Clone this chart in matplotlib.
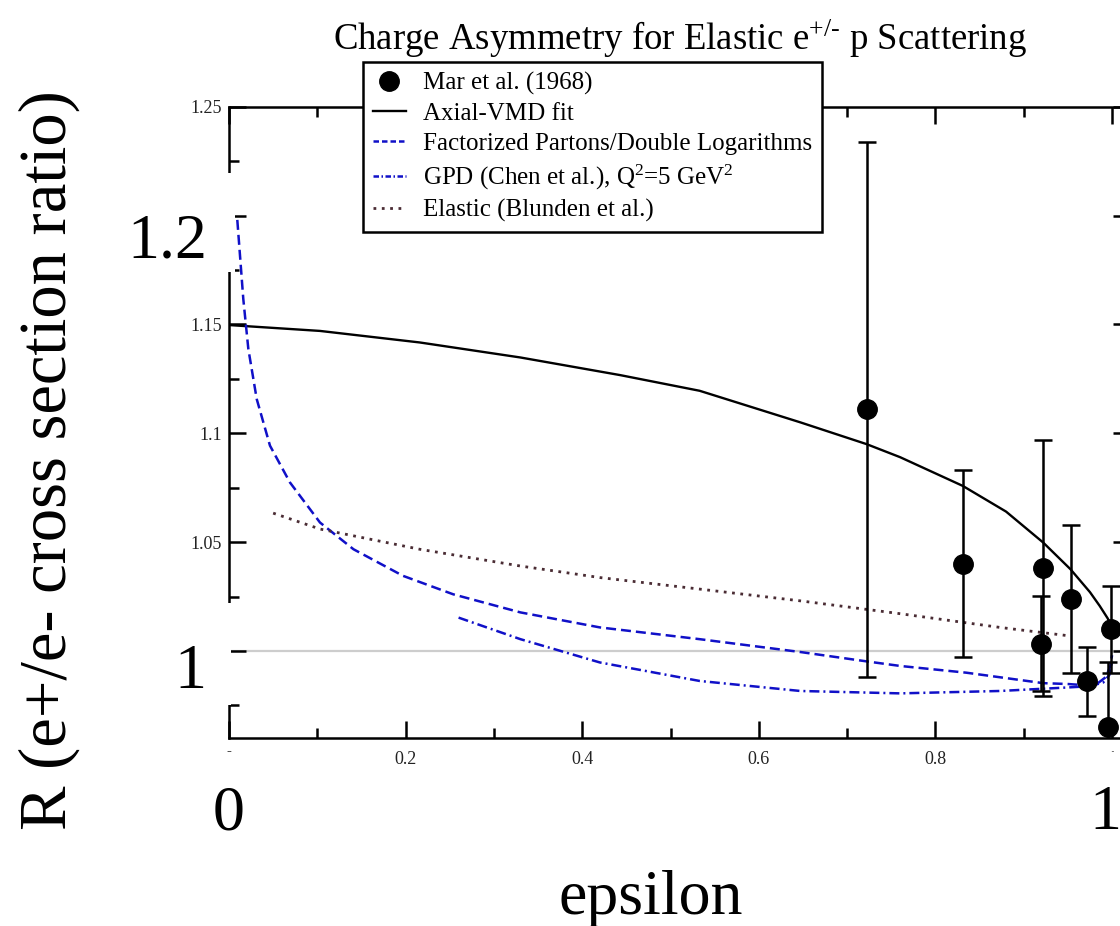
import numpy as np
import matplotlib
matplotlib.use('Agg')
import matplotlib.pyplot as plt
from matplotlib.patches import Rectangle
from matplotlib.lines import Line2D
from matplotlib.ticker import FixedLocator, FixedFormatter, MultipleLocator

plt.rcParams['font.family'] = ['Liberation Serif', 'DejaVu Serif']
plt.rcParams['mathtext.fontset'] = 'custom'
plt.rcParams['mathtext.rm'] = 'Liberation Serif'
plt.rcParams['mathtext.it'] = 'Liberation Serif:italic'
plt.rcParams['mathtext.bf'] = 'Liberation Serif:bold'

# ---------------- data ----------------
mar_eps = [0.722, 0.831, 0.922, 0.920, 0.953, 0.972, 0.9985, 0.9958]
mar_R   = [1.111, 1.040, 1.038, 1.0034, 1.024, 0.986, 1.010, 0.965]
mar_err = [0.123, 0.043, 0.0588, 0.0218, 0.034, 0.016, 0.020, 0.030]

vmd_eps = [0.0, 0.103, 0.216, 0.33, 0.443, 0.533, 0.647, 0.722, 0.76,
           0.831, 0.88, 0.922, 0.953, 0.975, 0.986, 0.995, 1.0]
vmd_R   = [1.1497, 1.147, 1.1417, 1.1348, 1.1267, 1.1195, 1.105, 1.095, 1.089,
           1.0758, 1.064, 1.0498, 1.0375, 1.027, 1.0207, 1.015, 1.011]

fp_eps = [0.0094, 0.0162, 0.0219, 0.0314, 0.0464, 0.069, 0.103, 0.141, 0.197, 0.254,
          0.33, 0.42, 0.533, 0.647, 0.722, 0.76, 0.835, 0.922, 0.95, 0.971, 0.985,
          0.993, 0.998, 1.0]
fp_R   = [1.198, 1.1616, 1.1387, 1.1157, 1.0943, 1.0774, 1.059, 1.0467, 1.0345, 1.026,
          1.0177, 1.0108, 1.0054, 0.9995, 0.9952, 0.9931, 0.990, 0.9852, 0.9848, 0.9842,
          0.9855, 0.988, 0.993, 0.998]

gpd_eps = [0.26, 0.33, 0.42, 0.533, 0.647, 0.76, 0.873, 0.949, 0.975, 0.99,
           0.997, 1.0]
gpd_R   = [1.0153, 1.0054, 0.9947, 0.9862, 0.9816, 0.9805, 0.9816, 0.9832,
           0.9838, 0.9855, 0.989, 0.995]

el_eps = [0.05, 0.103, 0.216, 0.33, 0.42, 0.533, 0.647, 0.76, 0.873, 0.952]
el_R   = [1.0633, 1.056, 1.0467, 1.039, 1.0337, 1.0284, 1.023, 1.0171, 1.0108, 1.0069]

x_major = [0.0, 0.2, 0.4, 0.6, 0.8, 1.0]
x_major_labels = ['0', '0.2', '0.4', '0.6', '0.8', '1']
y_major = [1.0, 1.05, 1.1, 1.15, 1.2, 1.25]
# the small "1" and "1.2" labels are hidden behind the large ones in the reference
y_major_labels = ['', '1.05', '1.1', '1.15', '', '1.25']

big_x_ticks = [0, 1]
big_x_labels = ['0', '1']
big_y_ticks = [1.0, 1.2]
big_y_labels = ['1', '1.2']

legend_labels = ['Mar et al. (1968)', 'Axial-VMD fit',
                 'Factorized Partons/Double Logarithms',
                 r'GPD (Chen et al.), Q$^2$=5 GeV$^2$',
                 'Elastic (Blunden et al.)']

title = 'Charge Asymmetry for Elastic e$^{+/\u2010}$ p Scattering'
xlabel = 'epsilon'
ylabel = 'R (e+/e- cross section ratio)'

# ---------------- layout helpers ----------------
W, H = 1120, 926
fig = plt.figure(figsize=(W / 100, H / 100), dpi=100)
fig.patch.set_facecolor('white')


def fx(px):
    return px / W


def fy(py):
    return 1 - py / H


L, R_, T, B = 229, 1129.7, 106.7, 738
rect = [fx(L), fy(B), (R_ - L) / W, (B - T) / H]

ax = fig.add_axes(rect, zorder=1)
ax.set_xlim(0, 1.02)
ax.set_ylim(0.96, 1.25)

blue = '#1010c8'
dotc = '#4a2c34'
ax.axhline(1.0, color='#cdcdcd', lw=1.6, zorder=1)

ax.plot(vmd_eps, vmd_R, color='black', lw=1.7, zorder=3)
ax.plot(fp_eps, fp_R, color=blue, lw=1.8, dashes=(4, 2), zorder=3)
ax.plot(gpd_eps, gpd_R, color=blue, lw=1.8, dashes=(4, 1.6, 0.8, 1.6), zorder=3)
ax.plot(el_eps, el_R, color=dotc, lw=2.0, dashes=(1, 2.0), zorder=3)
ax.errorbar(mar_eps, mar_R, yerr=mar_err, fmt='o', color='black', ms=14,
            elinewidth=1.8, capsize=6.8, capthick=1.8, zorder=4)

for s in ax.spines.values():
    s.set_linewidth(1.8)
ax.xaxis.set_major_locator(FixedLocator(x_major))
ax.xaxis.set_major_formatter(FixedFormatter(x_major_labels))
ax.xaxis.set_minor_locator(MultipleLocator(0.1))
ax.yaxis.set_major_locator(FixedLocator(y_major))
ax.yaxis.set_major_formatter(FixedFormatter(y_major_labels))
ax.yaxis.set_minor_locator(MultipleLocator(0.025))
ax.tick_params(which='both', direction='in', top=True, right=True, width=1.8,
               labelsize=13, labelcolor='#222222')
ax.tick_params(which='major', length=12)
ax.tick_params(which='minor', length=7)
ax.tick_params(axis='x', pad=9)
ax.tick_params(axis='y', pad=5)

handles = [
    Line2D([], [], ls='none', marker='o', color='black', ms=14),
    Line2D([], [], color='black', lw=1.7),
    Line2D([], [], color=blue, lw=1.8, dashes=(2.2, 1.2)),
    Line2D([], [], color=blue, lw=1.8, dashes=(2.2, 1.0, 0.6, 1.0)),
    Line2D([], [], color=dotc, lw=2.0, dashes=(1, 2.0)),
]
leg = ax.legend(handles, legend_labels, loc='upper left',
                bbox_to_anchor=(fx(363), fy(62)), bbox_transform=fig.transFigure,
                borderaxespad=0, fancybox=False, framealpha=1, edgecolor='black',
                prop={'family': 'Liberation Serif', 'size': 18},
                handlelength=1.3, handletextpad=0.7, borderpad=0.4,
                labelspacing=0.3)
leg.get_frame().set_linewidth(1.8)
leg.set_zorder(10)

# white patches (as in the reference, the big labels hide parts of the small plot)
for (x0, y0, x1, y1) in [(110, 173, 235, 272), (110, 603, 231, 705),
                         (195, 752, 262, 792), (1080, 752, 1120, 792)]:
    fig.add_artist(Rectangle((fx(x0), fy(y1)), (x1 - x0) / W, (y1 - y0) / H,
                             transform=fig.transFigure, facecolor='white',
                             edgecolor='none', zorder=4))

# outer (big) axis labels
ax2 = fig.add_axes(rect, zorder=5)
ax2.patch.set_visible(False)
for s in ax2.spines.values():
    s.set_visible(False)
xpx_per = 882.0
ypx_per = 431.0 / 0.2
xmin2 = (L - 223) / xpx_per
ax2.set_xlim(xmin2, xmin2 + (R_ - L) / xpx_per)
ymin2 = 1 - (B - 666) / ypx_per
ax2.set_ylim(ymin2, ymin2 + (B - T) / ypx_per)
ax2.set_xticks(big_x_ticks)
ax2.set_xticklabels(big_x_labels)
ax2.set_yticks(big_y_ticks)
ax2.set_yticklabels(big_y_labels)
ax2.tick_params(length=0, labelsize=46)
ax2.tick_params(axis='x', pad=34)
ax2.tick_params(axis='y', pad=16)

fig.text(fx(49), fy(460), ylabel, rotation=90, ha='center', va='center', fontsize=48)
fig.text(fx(651), fy(899), xlabel, ha='center', va='center', fontsize=46)
fig.text(fx(680), fy(50), title, ha='center', va='baseline', fontsize=26.5)

fig.savefig('out.png', dpi=100)
